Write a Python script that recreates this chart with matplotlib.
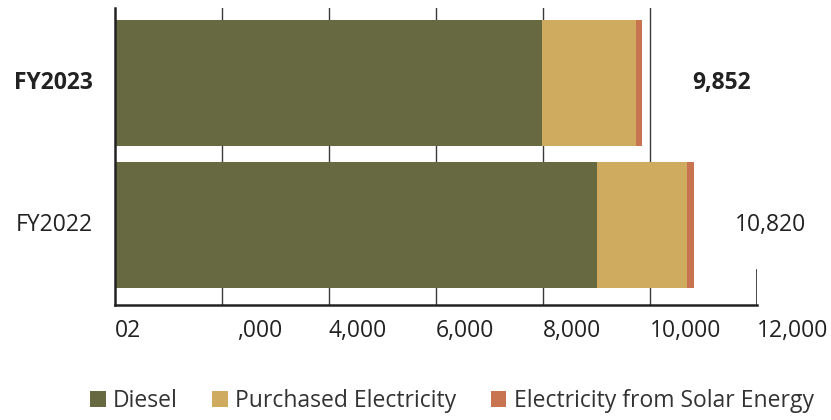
import matplotlib
matplotlib.use("Agg")
import matplotlib.pyplot as plt
from matplotlib.patches import Patch

plt.rcParams['font.family'] = ['Open Sans', 'DejaVu Sans']

# Data
years = ["FY2022", "FY2023"]
diesel = [9005, 7975]
purchased = [1680, 1760]
solar = [135, 117]
totals = [10820, 9852]
total_labels = ["10,820", "9,852"]
tick_values = [0, 2000, 4000, 6000, 8000, 10000, 12000]
tick_labels = ["02", ",000", "4,000", "6,000", "8,000", "10,000", "12,000"]
series_names = ["Diesel", "Purchased Electricity", "Electricity from Solar Energy"]
colors = ["#676941", "#CFAB60", "#C97450"]

FS = 16.5

fig = plt.figure(figsize=(8.31, 4.20), dpi=100)
ax = fig.add_axes([115 / 831, 1 - 305 / 420, (757 - 115) / 831, (305 - 8) / 420])

ypos = [0, 1]
h = 0.887
ax.barh(ypos, diesel, height=h, color=colors[0], zorder=2)
left2 = diesel
ax.barh(ypos, purchased, left=left2, height=h, color=colors[1], zorder=2)
left3 = [d + p for d, p in zip(diesel, purchased)]
ax.barh(ypos, solar, left=left3, height=h, color=colors[2], zorder=2)

ax.set_xlim(0, 12000)
ax.set_ylim(-0.563, 1.528)

# vertical gridlines
for v in tick_values[1:-1]:
    ax.axvline(v, color="#3a3a3a", lw=1.0, zorder=1)
ax.axvline(tick_values[-1], ymin=0, ymax=35 / 297, color="#3a3a3a", lw=1.3, zorder=1)

for s in ["top", "right"]:
    ax.spines[s].set_visible(False)
ax.spines["left"].set_color("#222222")
ax.spines["left"].set_linewidth(1.8)
ax.spines["left"].set_zorder(3)
ax.spines["bottom"].set_color("#222222")
ax.spines["bottom"].set_linewidth(1.8)

ax.set_xticks(tick_values)
ax.set_xticklabels([])
ax.tick_params(axis="x", length=0)
ax.set_yticks([])

# x tick labels, left-aligned at their ticks
label_shift = [0, 15, 0, 0, 0, 0, 0]
for v, t, dx in zip(tick_values, tick_labels, label_shift):
    ax.annotate(t, xy=(v, 0), xycoords=("data", "axes fraction"),
                xytext=(dx * 0.72, -18.7), textcoords="offset points",
                ha="left", va="center", fontsize=FS, color="#222222")

# category labels
for y, name in zip(ypos, years):
    ax.annotate(name, xy=(0, y), xycoords=("axes fraction", "data"),
                xytext=(-16, 0), textcoords="offset points",
                ha="right", va="center", fontsize=FS, color="#222222",
                fontweight="bold" if name == "FY2023" else "normal")

# totals
total_offsets = [41, 50]
for y, tot, lab, off in zip(ypos, totals, total_labels, total_offsets):
    ax.annotate(lab, xy=(tot, y), xytext=(off * 0.72, 0), textcoords="offset points",
                ha="left", va="center", fontsize=FS, color="#222222",
                fontweight="bold" if y == 1 else "normal")

handles = [Patch(facecolor=c, edgecolor="none") for c in colors]
fig.legend(handles, series_names, loc="center", bbox_to_anchor=(452 / 831, 1 - 401 / 420),
           ncol=3, frameon=False, fontsize=FS, handlelength=0.68, handleheight=0.68,
           handletextpad=0.32, columnspacing=1.5, labelcolor="#333333")

fig.savefig("out.png", dpi=100)
